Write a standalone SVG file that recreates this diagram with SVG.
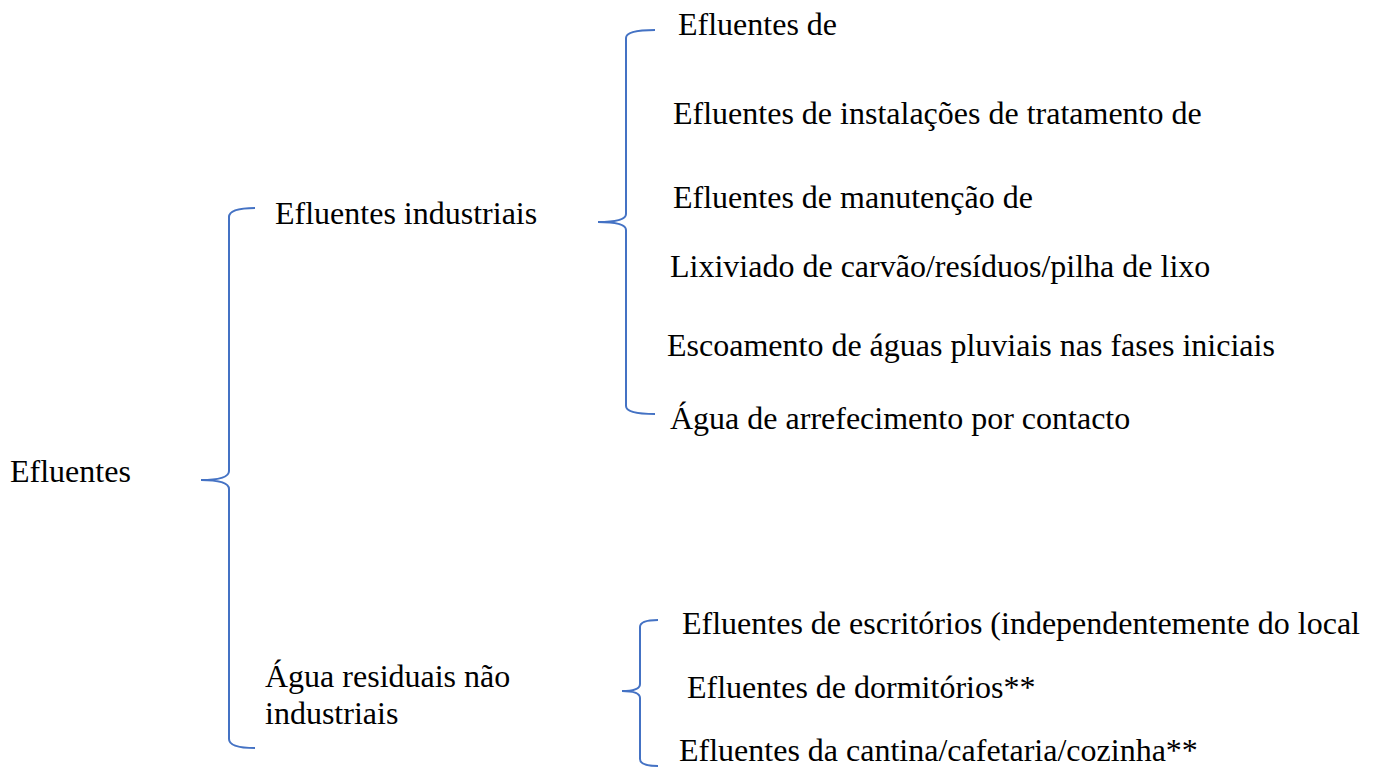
<svg xmlns="http://www.w3.org/2000/svg" width="1375" height="769" viewBox="0 0 1375 769">
<style>
.b{fill:none;stroke:#4472C4;stroke-width:2}
</style>
<rect width="1375" height="769" fill="#fff"/>
<g id="connectors">
<path class="b" d="M255,208 Q229,208 229,217 L229,471 Q229,480 201,480 Q229,480 229,489 L229,739 Q229,748 255,748"/>
<path class="b" d="M655,30 Q626,30 626,38 L626,214 Q626,222 598,222 Q626,222 626,230 L626,406 Q626,414 655,414"/>
<path class="b" d="M658,620 Q640,620 640,627 L640,684 Q640,691 622,691 Q640,691 640,698 L640,759 Q640,766 658,766"/>
</g>
<g font-family="Liberation Serif, serif" font-size="32" fill="#000">
<g id="root"><text x="10" y="482">Efluentes</text></g>
<g id="industriais"><text x="275" y="224">Efluentes industriais</text></g>
<g id="nao-industriais"><text x="265" y="687">Água residuais não</text><text x="265" y="724">industriais</text></g>
<g id="i1"><text x="678" y="35">Efluentes de</text></g>
<g id="i2"><text x="673" y="124">Efluentes de instalações de tratamento de</text></g>
<g id="i3"><text x="673" y="208">Efluentes de manutenção de</text></g>
<g id="i4"><text x="670" y="277">Lixiviado de carvão/resíduos/pilha de lixo</text></g>
<g id="i5"><text x="667" y="356">Escoamento de águas pluviais nas fases iniciais</text></g>
<g id="i6"><text x="670" y="429">Água de arrefecimento por contacto</text></g>
<g id="n1"><text x="682" y="634">Efluentes de escritórios (independentemente do local</text></g>
<g id="n2"><text x="687" y="698">Efluentes de dormitórios**</text></g>
<g id="n3"><text x="679" y="761">Efluentes da cantina/cafetaria/cozinha**</text></g>
</g>
</svg>
